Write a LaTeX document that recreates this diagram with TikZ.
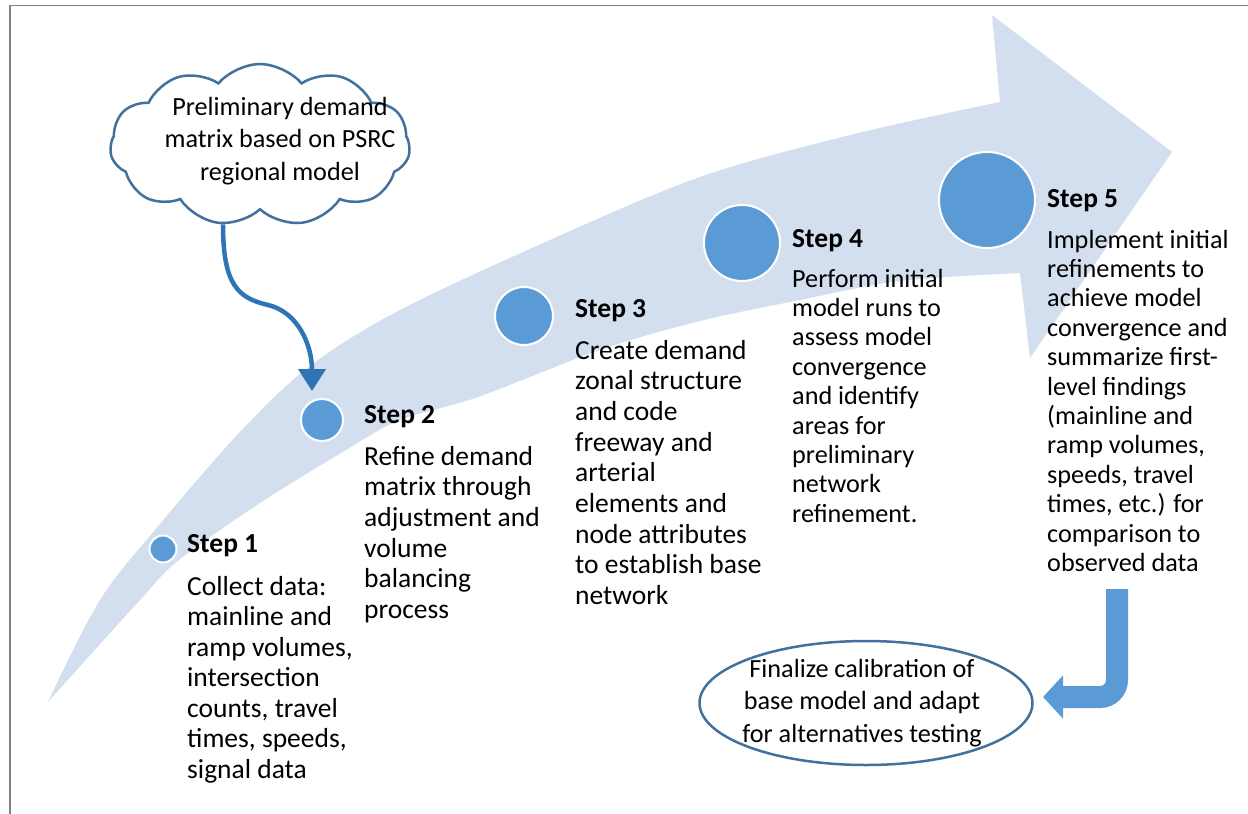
\documentclass[tikz,border=0pt]{standalone}
\usepackage{fontspec}
\setmainfont{Carlito}
\usetikzlibrary{shapes.symbols,shapes.geometric,arrows.meta}
\definecolor{bandc}{HTML}{D3DEEF}
\definecolor{dotc}{HTML}{5B9BD5}
\definecolor{linec}{HTML}{41719C}
\definecolor{connc}{HTML}{2E75B6}
\definecolor{framec}{HTML}{808080}
\begin{document}
\begin{tikzpicture}[x=1pt,y=-1pt,
  stepdot/.style={circle, fill=dotc, draw=white, line width=2pt, inner sep=0pt},
  lbl/.style={anchor=base west, inner sep=0pt, font=\fontsize{27.5}{30.6}\selectfont\bfseries},
  bodyA/.style={anchor=base west, inner sep=0pt, align=left, font=\fontsize{27.5}{30.7}\selectfont},
  bodyB/.style={anchor=base west, inner sep=0pt, align=left, font=\fontsize{26.2}{29.4}\selectfont},
  boxtext/.style={align=center, inner sep=0pt, font=\fontsize{26.2}{32.3}\selectfont},
  outline/.style={draw=linec, line width=2.5pt, fill=white, inner sep=0pt},
  cloudconn/.style={line width=4.5pt, connc, -{Triangle[length=22pt,width=27pt]}},
  bigturn/.style={line width=22pt, dotc, rounded corners=17pt, -{Triangle[length=20pt,width=42pt]}}
]
\useasboundingbox (0,0) rectangle (1248,814);
% big curved arrow
\fill[bandc] plot[smooth, tension=0.55] coordinates {(48,702) (100,600) (160,524) (240,432) (310,366) (400,310) (550,240) (700,177) (850,135) (1000,102)}
  -- (992,15) -- (1172,152) -- (1030,358) -- (1020,273)
  -- plot[smooth, tension=0.55] coordinates {(1020,273) (900,281) (800,300) (700,321) (600,350) (478,397) (400,420) (346,450) (260,503) (179,560) (140,600) (48,702)} -- cycle;
% frame
\draw[framec, line width=1.6pt] (10,814) -- (10,5.5) -- (1248,5.5);
% cloud
\node[cloud, outline, cloud puffs=11, cloud puff arc=100, cloud ignores aspect, minimum width=300pt, minimum height=162pt] (cloud) at (260,145) {};
\node[boxtext] (cloudtext) at (280,141) {Preliminary demand\\matrix based on PSRC\\regional model};
% circles
\node[stepdot, minimum size=27pt] (s1) at (163,549) {};
\node[stepdot, minimum size=42pt] (s2) at (322,420) {};
\node[stepdot, minimum size=58pt] (s3) at (524,316) {};
\node[stepdot, minimum size=76pt] (s4) at (742,243) {};
\node[stepdot, minimum size=96pt] (s5) at (987,200) {};
% cloud connector
\coordinate (c2tip) at (312,391);
\draw[cloudconn] (cloud.245) .. controls (223,285) and (238,298) .. (268,305) .. controls (298,312) and (312,345) .. (c2tip);
% labels
\node[lbl] (l1) at (187,552) {Step 1};
\node[lbl] (l2) at (364,423) {Step 2};
\node[lbl] (l3) at (575,317) {Step 3};
\node[lbl] (l4) at (792,247) {Step 4};
\node[lbl] (l5) at (1047,207) {Step 5};
% bodies (anchor = baseline of last line)
\node[bodyA, font=\fontsize{27.5}{30.5}\selectfont] (t1) at (187,778) {Collect data:\\mainline and\\ramp volumes,\\intersection\\counts, travel\\times, speeds,\\signal data};
\node[bodyA] (t2) at (364,618.5) {Refine demand\\matrix through\\adjustment and\\volume\\balancing\\process};
\node[bodyA] (t3) at (575,604.6) {Create demand\\zonal structure\\and code\\freeway and\\arterial\\elements and\\node attributes\\to establish base\\network};
\node[bodyB] (t4) at (792,522.2) {Perform initial\\model runs to\\assess model\\convergence\\and identify\\areas for\\preliminary\\network\\refinement.};
\node[bodyB] (t5) at (1047,571.4) {Implement initial\\refinements to\\achieve model\\convergence and\\summarize first-\\level findings\\(mainline and\\ramp volumes,\\speeds, travel\\times, etc.) for\\comparison to\\observed data};
% final ellipse
\node[ellipse, outline, minimum width=333pt, minimum height=124pt] (fin) at (866,703) {};
\node[boxtext] (fintext) at (862,703) {Finalize calibration of\\base model and adapt\\for alternatives testing};
% turn arrow
\coordinate (u0) at (1117,589);
\coordinate (u1) at (1043,697);
\draw[bigturn] (u0) |- (u1);
\end{tikzpicture}
\end{document}
